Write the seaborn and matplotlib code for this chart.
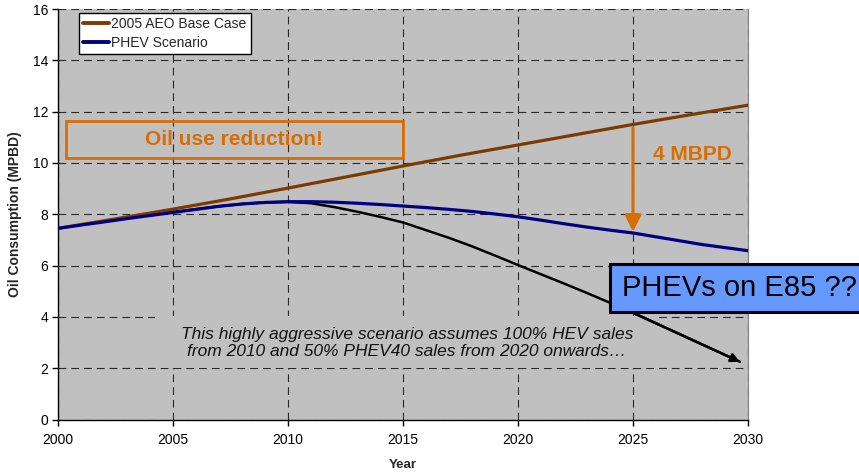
import numpy as np
import pandas as pd
import matplotlib
matplotlib.use("Agg")
import matplotlib.pyplot as plt
from matplotlib.patches import Rectangle
import seaborn as sns

# --- data -------------------------------------------------------------
base_years = [2000, 2002.5, 2005, 2007.5, 2010, 2012.5, 2015, 2017.5, 2020, 2022.5, 2025, 2027.5, 2030]
base_case = [7.45, 7.82, 8.20, 8.60, 9.02, 9.45, 9.88, 10.30, 10.70, 11.10, 11.50, 11.88, 12.25]

phev_years = [2000, 2001, 2002, 2003, 2004, 2005, 2006, 2007, 2008, 2009, 2010,
              2011, 2012, 2013, 2014, 2015, 2016, 2017, 2018, 2019, 2020,
              2021, 2022, 2023, 2024, 2025, 2026, 2027, 2028, 2029, 2030]
phev_scenario = [7.45, 7.58, 7.70, 7.83, 7.95, 8.07, 8.19, 8.31, 8.40, 8.46, 8.49,
                 8.49, 8.47, 8.43, 8.38, 8.32, 8.26, 8.19, 8.11, 8.01, 7.90,
                 7.77, 7.63, 7.50, 7.38, 7.27, 7.12, 6.97, 6.82, 6.70, 6.58]

aggr_years = [2004.7, 2006, 2007, 2008, 2009, 2010, 2011, 2012, 2013, 2014, 2015,
              2016, 2017, 2018, 2019, 2020, 2021, 2022, 2023, 2024, 2025, 2029.65]
aggr_values = [8.05, 8.20, 8.31, 8.40, 8.46, 8.48, 8.43, 8.28, 8.10, 7.90, 7.68,
               7.38, 7.08, 6.75, 6.39, 6.02, 5.66, 5.30, 4.93, 4.55, 4.16, 2.25]

series_names = ["2005 AEO Base Case", "PHEV Scenario"]
series_colors = ["#7B3B00", "#000080"]

x_ticks = [2000, 2005, 2010, 2015, 2020, 2025, 2030]
y_ticks = [0, 2, 4, 6, 8, 10, 12, 14, 16]

reduction_year = 2025
reduction_top = 11.36
reduction_bottom = 7.32

df = pd.DataFrame({
    "Year": base_years + phev_years,
    "Oil": base_case + phev_scenario,
    "Series": [series_names[0]] * len(base_years) + [series_names[1]] * len(phev_years),
})
df_aggr = pd.DataFrame({"Year": aggr_years, "Oil": aggr_values})

# --- style ------------------------------------------------------------
sns.set_theme(style="ticks")
plt.rcParams["font.family"] = ["Liberation Sans", "DejaVu Sans"]

orange = "#D86D00"
bg = "#C0C0C0"

fig = plt.figure(figsize=(8.59, 4.75), dpi=100)
ax = fig.add_axes([58 / 859, 1 - 419.5 / 475, 690 / 859, 410.5 / 475])
ax.set_facecolor(bg)

sns.lineplot(data=df, x="Year", y="Oil", hue="Series", palette=series_colors,
             hue_order=series_names, linewidth=2.3, ax=ax, zorder=3, legend=True)
sns.lineplot(data=df_aggr, x="Year", y="Oil", color="black", linewidth=1.8,
             ax=ax, zorder=2.5, legend=False)
# arrow head at the end of the aggressive scenario curve
ax.annotate("", xy=(aggr_years[-1], aggr_values[-1]), xytext=(aggr_years[-2], aggr_values[-2]),
            arrowprops=dict(arrowstyle="-|>", color="black", lw=1.8,
                            mutation_scale=13, shrinkA=0, shrinkB=0), zorder=2.6)

ax.set_xlim(2000, 2030)
ax.set_ylim(0, 16)
ax.set_xticks(x_ticks)
ax.set_yticks(y_ticks)
ax.tick_params(axis="both", labelsize=10, length=4, width=1, colors="black", direction="out")
ax.tick_params(axis="x", pad=6)
ax.tick_params(axis="y", pad=3)

ax.grid(True, color="#2a2a2a", linewidth=0.8, linestyle=(0, (7, 4.5)))
ax.set_axisbelow(True)

for side in ["left", "bottom"]:
    ax.spines[side].set_color("black")
    ax.spines[side].set_linewidth(1.0)
ax.spines["top"].set_visible(False)
ax.spines["right"].set_color("#808080")
ax.spines["right"].set_linewidth(0.8)

ax.set_xlabel("Year", fontsize=9.5, fontweight="bold")
ax.set_ylabel("Oil Consumption (MPBD)", fontsize=10, fontweight="bold")
ax.xaxis.set_label_coords(0.5, -0.097)
ax.yaxis.set_label_coords(-0.052, 0.5)

leg = ax.legend(loc="upper left", bbox_to_anchor=(0.030, 0.990), fontsize=10,
                frameon=True, fancybox=False, framealpha=1, edgecolor="black",
                facecolor="white", handlelength=1.9, handletextpad=0.15,
                borderpad=0.3, labelspacing=0.35, borderaxespad=0)
leg.get_frame().set_linewidth(1.0)
for line in leg.get_lines():
    line.set_linewidth(2.8)

# "Oil use reduction!" callout
ax.add_patch(Rectangle((2000.33, 10.18), 14.65, 1.46, facecolor="none",
                       edgecolor=orange, linewidth=2, zorder=4))
ax.text(2007.65, 10.91, "Oil use reduction!", color=orange, fontsize=15,
        fontweight="bold", ha="center", va="center", zorder=5)

# reduction arrow at 2025
ax.annotate("", xy=(reduction_year, reduction_bottom), xytext=(reduction_year, reduction_top),
            arrowprops=dict(arrowstyle="-|>,head_length=0.7,head_width=0.35", color=orange,
                            lw=2.2, mutation_scale=14, shrinkA=0, shrinkB=0), zorder=6)
ax.text(2027.57, 10.31, "4 MBPD", color=orange, fontsize=15, fontweight="bold",
        ha="center", va="center", zorder=5)

# scenario note on a plain background
ax.add_patch(Rectangle((2004.2, 2.01), 21.84, 2.02, facecolor=bg, edgecolor="none", zorder=1.5))
ax.text(2015.17, 2.98,
        "This highly aggressive scenario assumes 100% HEV sales\nfrom 2010 and 50% PHEV40 sales from 2020 onwards\u2026",
        fontsize=12.5, fontstyle="italic", ha="center", va="center",
        linespacing=1.1, color="#111111", zorder=5)

# "PHEVs on E85 ??" box running off the right edge
fig.patches.append(Rectangle((610 / 859, 1 - 311.7 / 475), 0.32, 47.7 / 475,
                             transform=fig.transFigure, facecolor="#6699FF",
                             edgecolor="black", linewidth=2.2, zorder=10))
fig.text(739.5 / 859, 1 - 288 / 475, "PHEVs on E85 ??", fontsize=21,
         ha="center", va="center", color="black", zorder=11)

fig.savefig("out.png", dpi=100)
